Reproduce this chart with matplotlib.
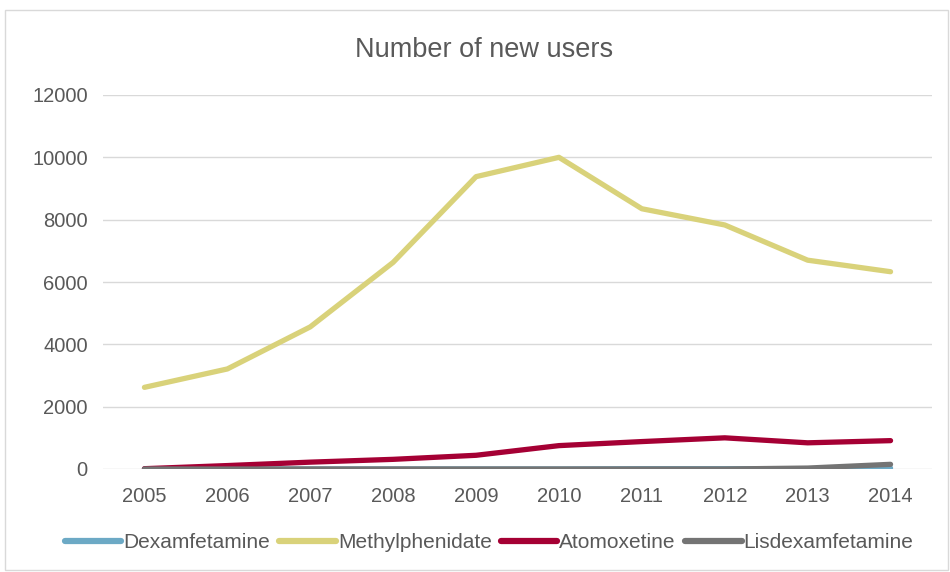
import matplotlib
matplotlib.use("Agg")
import matplotlib.pyplot as plt
from matplotlib.patches import Rectangle

years = ["2005", "2006", "2007", "2008", "2009", "2010", "2011", "2012", "2013", "2014"]
dexamfetamine = [0, 0, 0, 0, 0, 0, 10, 10, 10, 30]
methylphenidate = [2620, 3210, 4560, 6630, 9380, 10000, 8350, 7830, 6700, 6330]
atomoxetine = [10, 110, 220, 310, 440, 750, 880, 1000, 840, 910]
lisdexamfetamine = [0, 0, 0, 0, 0, 0, 0, 0, 30, 150]

series = [
    ("Dexamfetamine", dexamfetamine, "#6CA9C5"),
    ("Methylphenidate", methylphenidate, "#D9D27A"),
    ("Atomoxetine", atomoxetine, "#A50034"),
    ("Lisdexamfetamine", lisdexamfetamine, "#747474"),
]

plt.rcParams['font.family'] = ['Liberation Sans', 'DejaVu Sans']
txt = "#595959"

fig = plt.figure(figsize=(9.5, 5.72), dpi=100)
fig.patches.append(Rectangle((5/950, 1-570/572), 943/950, 560/572, transform=fig.transFigure,
                             fill=False, edgecolor="#D9D9D9", linewidth=1.0))
ax = fig.add_axes([103/950, 1-469/572, 829/950, 374/572])

x = list(range(len(years)))
for name, vals, col in series:
    ax.plot(x, vals, color=col, linewidth=3.8, label=name, solid_capstyle="round", solid_joinstyle="round")

ax.set_xlim(-0.5, len(years) - 0.5)
ax.set_ylim(0, 12000)
ax.set_yticks(range(0, 12001, 2000))
ax.set_xticks(x)
ax.set_xticklabels(years)
ax.grid(axis="y", color="#D9D9D9", linewidth=1.0)
ax.set_axisbelow(True)
for s in ax.spines.values():
    s.set_visible(False)
ax.tick_params(axis="both", length=0, labelsize=14.5, colors=txt)
ax.tick_params(axis="y", pad=11)
ax.tick_params(axis="x", pad=13)

fig.text(0.51, 1-50/572, "Number of new users", ha="center", va="center", fontsize=19.5, color=txt)

leg = fig.legend(loc="center", bbox_to_anchor=(0.515, 1-543/572), ncol=4, frameon=False,
                 fontsize=15, handlelength=2.7, handletextpad=0.1, columnspacing=0.45)
for t in leg.get_texts():
    t.set_color(txt)
for h in leg.get_lines():
    h.set_linewidth(4.5)

fig.savefig("out.png", dpi=100)
